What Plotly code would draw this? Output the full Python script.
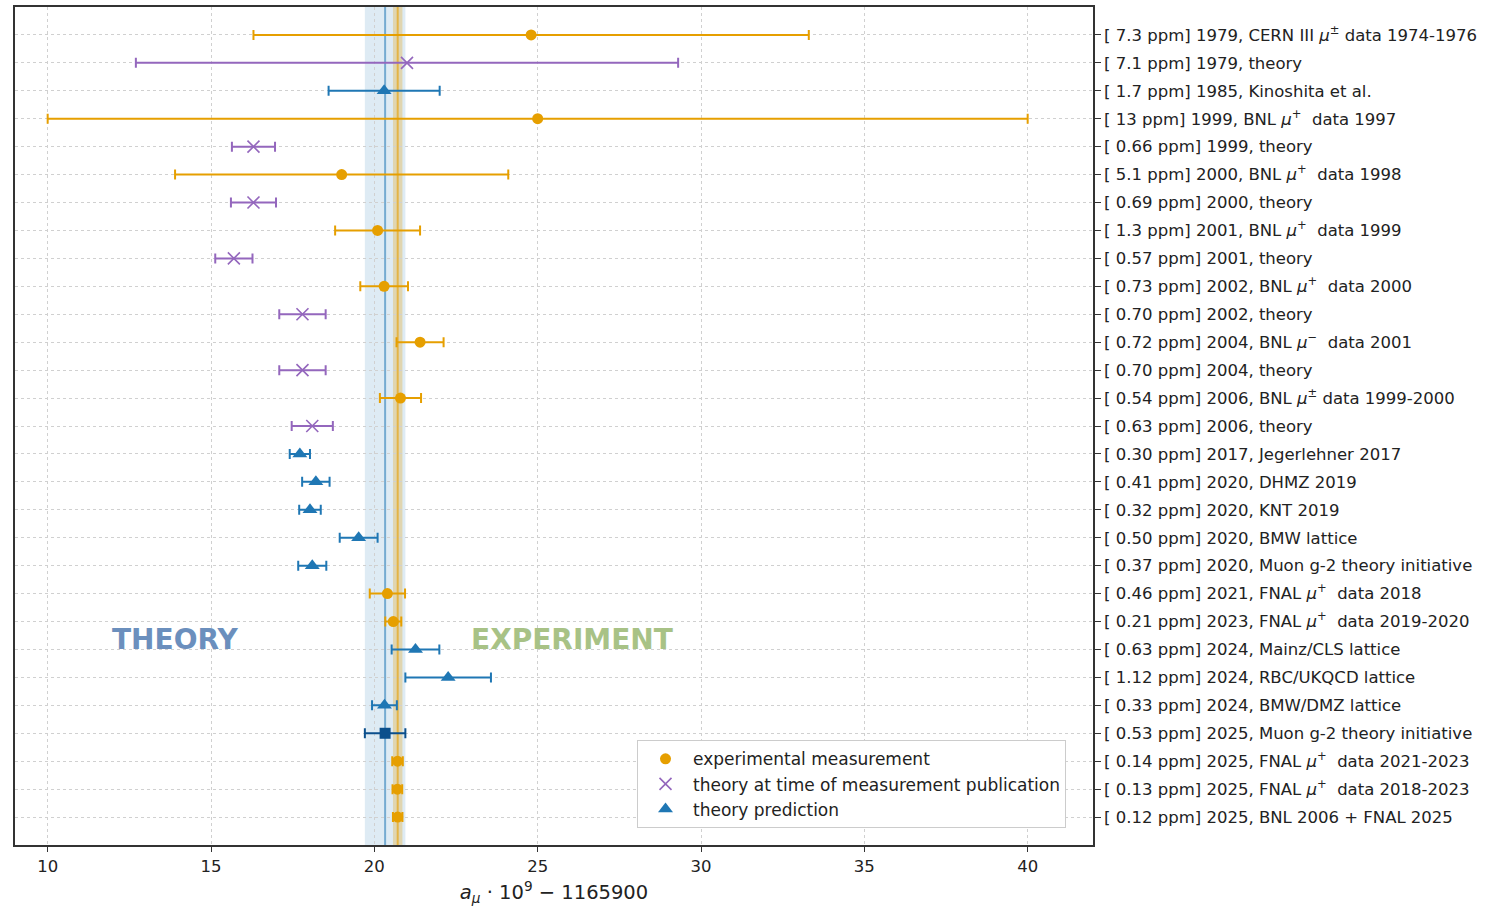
import plotly.graph_objects as go

# Rows from top to bottom
labels = [
    "[ 7.3 ppm] 1979, CERN III <i>μ</i><sup>±</sup> data 1974-1976",
    "[ 7.1 ppm] 1979, theory",
    "[ 1.7 ppm] 1985, Kinoshita et al.",
    "[ 13 ppm] 1999, BNL <i>μ</i><sup>+</sup>  data 1997",
    "[ 0.66 ppm] 1999, theory",
    "[ 5.1 ppm] 2000, BNL <i>μ</i><sup>+</sup>  data 1998",
    "[ 0.69 ppm] 2000, theory",
    "[ 1.3 ppm] 2001, BNL <i>μ</i><sup>+</sup>  data 1999",
    "[ 0.57 ppm] 2001, theory",
    "[ 0.73 ppm] 2002, BNL <i>μ</i><sup>+</sup>  data 2000",
    "[ 0.70 ppm] 2002, theory",
    "[ 0.72 ppm] 2004, BNL <i>μ</i><sup>−</sup>  data 2001",
    "[ 0.70 ppm] 2004, theory",
    "[ 0.54 ppm] 2006, BNL <i>μ</i><sup>±</sup> data 1999-2000",
    "[ 0.63 ppm] 2006, theory",
    "[ 0.30 ppm] 2017, Jegerlehner 2017",
    "[ 0.41 ppm] 2020, DHMZ 2019",
    "[ 0.32 ppm] 2020, KNT 2019",
    "[ 0.50 ppm] 2020, BMW lattice",
    "[ 0.37 ppm] 2020, Muon g-2 theory initiative",
    "[ 0.46 ppm] 2021, FNAL <i>μ</i><sup>+</sup>  data 2018",
    "[ 0.21 ppm] 2023, FNAL <i>μ</i><sup>+</sup>  data 2019-2020",
    "[ 0.63 ppm] 2024, Mainz/CLS lattice",
    "[ 1.12 ppm] 2024, RBC/UKQCD lattice",
    "[ 0.33 ppm] 2024, BMW/DMZ lattice",
    "[ 0.53 ppm] 2025, Muon g-2 theory initiative",
    "[ 0.14 ppm] 2025, FNAL <i>μ</i><sup>+</sup>  data 2021-2023",
    "[ 0.13 ppm] 2025, FNAL <i>μ</i><sup>+</sup>  data 2018-2023",
    "[ 0.12 ppm] 2025, BNL 2006 + FNAL 2025",
]

# a_mu * 1e9 - 1165900
values = [24.8, 21.0, 20.3, 25.0, 16.3, 19.0, 16.3, 20.1, 15.7, 20.3,
          17.8, 21.4, 17.8, 20.8, 18.1, 17.72, 18.21, 18.03, 19.52, 18.10,
          20.40, 20.58, 21.26, 22.26, 20.31, 20.33, 20.710, 20.705, 20.715]
errors = [8.5, 8.3, 1.7, 15.0, 0.66, 5.1, 0.69, 1.3, 0.57, 0.73,
          0.71, 0.72, 0.71, 0.63, 0.63, 0.31, 0.42, 0.33, 0.58, 0.43,
          0.54, 0.245, 0.73, 1.31, 0.38, 0.62, 0.162, 0.148, 0.145]
kinds = ["exp", "then", "pred", "exp", "then", "exp", "then", "exp", "then", "exp",
         "then", "exp", "then", "exp", "then", "pred", "pred", "pred", "pred", "pred",
         "exp", "exp", "pred", "pred", "pred", "wp", "exp", "exp", "exp"]

x_ticks = [10, 15, 20, 25, 30, 35, 40]

ORANGE = "#E69F00"
PURPLE = "#9467bd"
BLUE = "#1f77b4"
DARKBLUE = "#0b4f8c"

styles = {
    "exp": dict(name="experimental measurement", color=ORANGE,
                marker=dict(symbol="circle", size=11, color=ORANGE)),
    "then": dict(name="theory at time of measurement publication", color=PURPLE,
                 marker=dict(symbol="x-thin-open", size=12, color=PURPLE,
                             line=dict(color=PURPLE, width=1.6))),
    "pred": dict(name="theory prediction", color=BLUE,
                 marker=dict(symbol="triangle-up", size=13, color=BLUE)),
    "wp": dict(name="theory initiative 2025", color=DARKBLUE,
               marker=dict(symbol="square", size=11, color=DARKBLUE)),
}

fig = go.Figure()

# Bands: latest theory initiative and latest experimental average
wp_idx = kinds.index("wp")
th_c, th_e = values[wp_idx], errors[wp_idx]
ex_c, ex_e = values[-1], errors[-1]
fig.add_shape(type="rect", xref="x", yref="paper", x0=th_c - th_e, x1=th_c + th_e,
              y0=0, y1=1, fillcolor="rgba(31,119,180,0.15)", line=dict(width=0),
              layer="below")
fig.add_shape(type="rect", xref="x", yref="paper", x0=ex_c - ex_e, x1=ex_c + ex_e,
              y0=0, y1=1, fillcolor="rgba(230,159,0,0.28)", line=dict(width=0),
              layer="below")
fig.add_shape(type="line", xref="x", yref="paper", x0=th_c, x1=th_c, y0=0, y1=1,
              line=dict(color="rgba(31,119,180,0.55)", width=2), layer="below")
fig.add_shape(type="line", xref="x", yref="paper", x0=ex_c, x1=ex_c, y0=0, y1=1,
              line=dict(color="rgba(230,159,0,0.6)", width=2), layer="below")

for kind in ["exp", "then", "pred", "wp"]:
    idx = [i for i, k in enumerate(kinds) if k == kind]
    st = styles[kind]
    fig.add_trace(go.Scatter(
        x=[values[i] for i in idx],
        y=[i for i in idx],
        mode="markers",
        name=st["name"],
        marker=st["marker"],
        error_x=dict(type="data", array=[errors[i] for i in idx], color=st["color"],
                     thickness=2, width=5),
        showlegend=(kind != "wp"),
    ))

fig.add_annotation(x=13.9, y=21.65, xref="x", yref="y", text="<b>THEORY</b>",
                   showarrow=False, font=dict(family="DejaVu Sans", size=28, color="#6b8fbd"))
fig.add_annotation(x=26.05, y=21.65, xref="x", yref="y", text="<b>EXPERIMENT</b>",
                   showarrow=False, font=dict(family="DejaVu Sans", size=28, color="#a8c286"))

fig.update_layout(
    width=1485, height=908,
    margin=dict(l=15, r=392, t=5, b=63),
    paper_bgcolor="white", plot_bgcolor="white",
    font=dict(family="DejaVu Sans", size=16.5, color="#222222"),
    legend=dict(x=0.577, y=0.125, xanchor="left", yanchor="top",
                bgcolor="white", bordercolor="#cccccc", borderwidth=1,
                itemwidth=45, font=dict(size=17)),
    xaxis=dict(range=[9, 42], tickvals=x_ticks, ticks="outside", ticklen=5,
               tickcolor="#333", showline=True, mirror=True, linecolor="#333",
               linewidth=1.5, showgrid=True, gridcolor="#d0d0d0", griddash="dot",
               zeroline=False, tickfont=dict(size=16.5),
               title=dict(text="<i>a</i><sub><i>μ</i></sub> · 10<sup>9</sup> − 1165900",
                          font=dict(size=19.5), standoff=11)),
    yaxis=dict(range=[29, -1], tickvals=list(range(len(labels))), ticktext=labels,
               side="right", ticks="outside", ticklen=6, tickcolor="#333",
               showline=True, mirror=True, linecolor="#333", linewidth=1.5,
               showgrid=True, gridcolor="#d0d0d0", griddash="dot", zeroline=False),
)

fig.write_html("out.html")
